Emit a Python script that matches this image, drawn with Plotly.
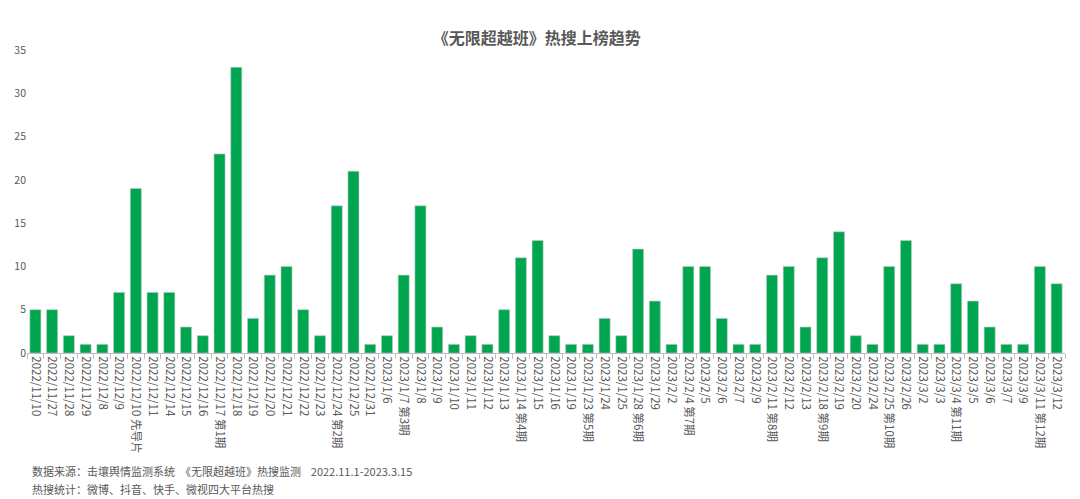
import plotly.graph_objects as go

dates = ["2022/11/10", "2022/11/27", "2022/11/28", "2022/11/29", "2022/12/8", "2022/12/9",
         "2022/12/10 先导片", "2022/12/11", "2022/12/14", "2022/12/15", "2022/12/16",
         "2022/12/17 第1期", "2022/12/18", "2022/12/19", "2022/12/20", "2022/12/21",
         "2022/12/22", "2022/12/23", "2022/12/24 第2期", "2022/12/25", "2022/12/31",
         "2023/1/6", "2023/1/7 第3期", "2023/1/8", "2023/1/9", "2023/1/10", "2023/1/11",
         "2023/1/12", "2023/1/13", "2023/1/14 第4期", "2023/1/15", "2023/1/16", "2023/1/19",
         "2023/1/23 第5期", "2023/1/24", "2023/1/25", "2023/1/28 第6期", "2023/1/29",
         "2023/2/2", "2023/2/4 第7期", "2023/2/5", "2023/2/6", "2023/2/7", "2023/2/9",
         "2023/2/11 第8期", "2023/2/12", "2023/2/13", "2023/2/18 第9期", "2023/2/19",
         "2023/2/20", "2023/2/24", "2023/2/25 第10期", "2023/2/26", "2023/3/2", "2023/3/3",
         "2023/3/4 第11期", "2023/3/5", "2023/3/6", "2023/3/7", "2023/3/9",
         "2023/3/11 第12期", "2023/3/12"]

counts = [5, 5, 2, 1, 1, 7,
          19, 7, 7, 3, 2,
          23, 33, 4, 9, 10,
          5, 2, 17, 21, 1,
          2, 9, 17, 3, 1, 2,
          1, 5, 11, 13, 2, 1,
          1, 4, 2, 12, 6,
          1, 10, 10, 4, 1, 1,
          9, 10, 3, 11, 14,
          2, 1, 10, 13, 1, 1,
          8, 6, 3, 1, 1,
          10, 8]

y_ticks = [0, 5, 10, 15, 20, 25, 30, 35]

title_text = "《无限超越班》热搜上榜趋势"
footer_lines = [
    "数据来源：击壤舆情监测系统  《无限超越班》热搜监测    2022.11.1-2023.3.15",
    "热搜统计：微博、抖音、快手、微视四大平台热搜",
]

FONT = "Noto Sans CJK SC, Noto Sans, sans-serif"
GRAY = "#595959"

# page offset of 8px (body margin) accounted for in margins
fig = go.Figure(
    go.Bar(
        x=dates,
        y=counts,
        marker=dict(color="#00A64F", line=dict(color="#C8C8C8", width=0.6)),
        width=0.66,
    )
)

fig.update_layout(
    width=1080,
    height=499,
    margin=dict(l=19, r=23, t=42, b=154),
    paper_bgcolor="white",
    plot_bgcolor="white",
    showlegend=False,
    font=dict(family=FONT, color=GRAY),
    title=dict(
        text="<b>" + title_text + "</b>",
        x=0.491,
        xref="paper",
        xanchor="center",
        y=1 - 30 / 499,
        yref="container",
        yanchor="middle",
        font=dict(family=FONT, size=16, color=GRAY),
    ),
)

fig.update_xaxes(
    type="category",
    tickangle=90,
    tickfont=dict(family=FONT, size=11.5, color=GRAY),
    showline=True,
    linecolor="#BFBFBF",
    linewidth=1,
    ticks="outside",
    tickson="boundaries",
    ticklen=5,
    tickcolor="#BFBFBF",
    showgrid=False,
    automargin=False,
)

fig.update_yaxes(
    range=[0, 35],
    tickvals=y_ticks,
    tickfont=dict(family=FONT, size=10.5, color=GRAY),
    showgrid=False,
    zeroline=False,
    showline=False,
    automargin=False,
)

for i, line in enumerate(footer_lines):
    fig.add_annotation(
        text=line,
        xref="paper",
        yref="paper",
        x=0,
        xanchor="left",
        y=-(471 + 18 * i - 353) / 303,
        yanchor="middle",
        showarrow=False,
        font=dict(family=FONT, size=11, color=GRAY),
        xshift=3,
    )

fig.write_html("out.html")
